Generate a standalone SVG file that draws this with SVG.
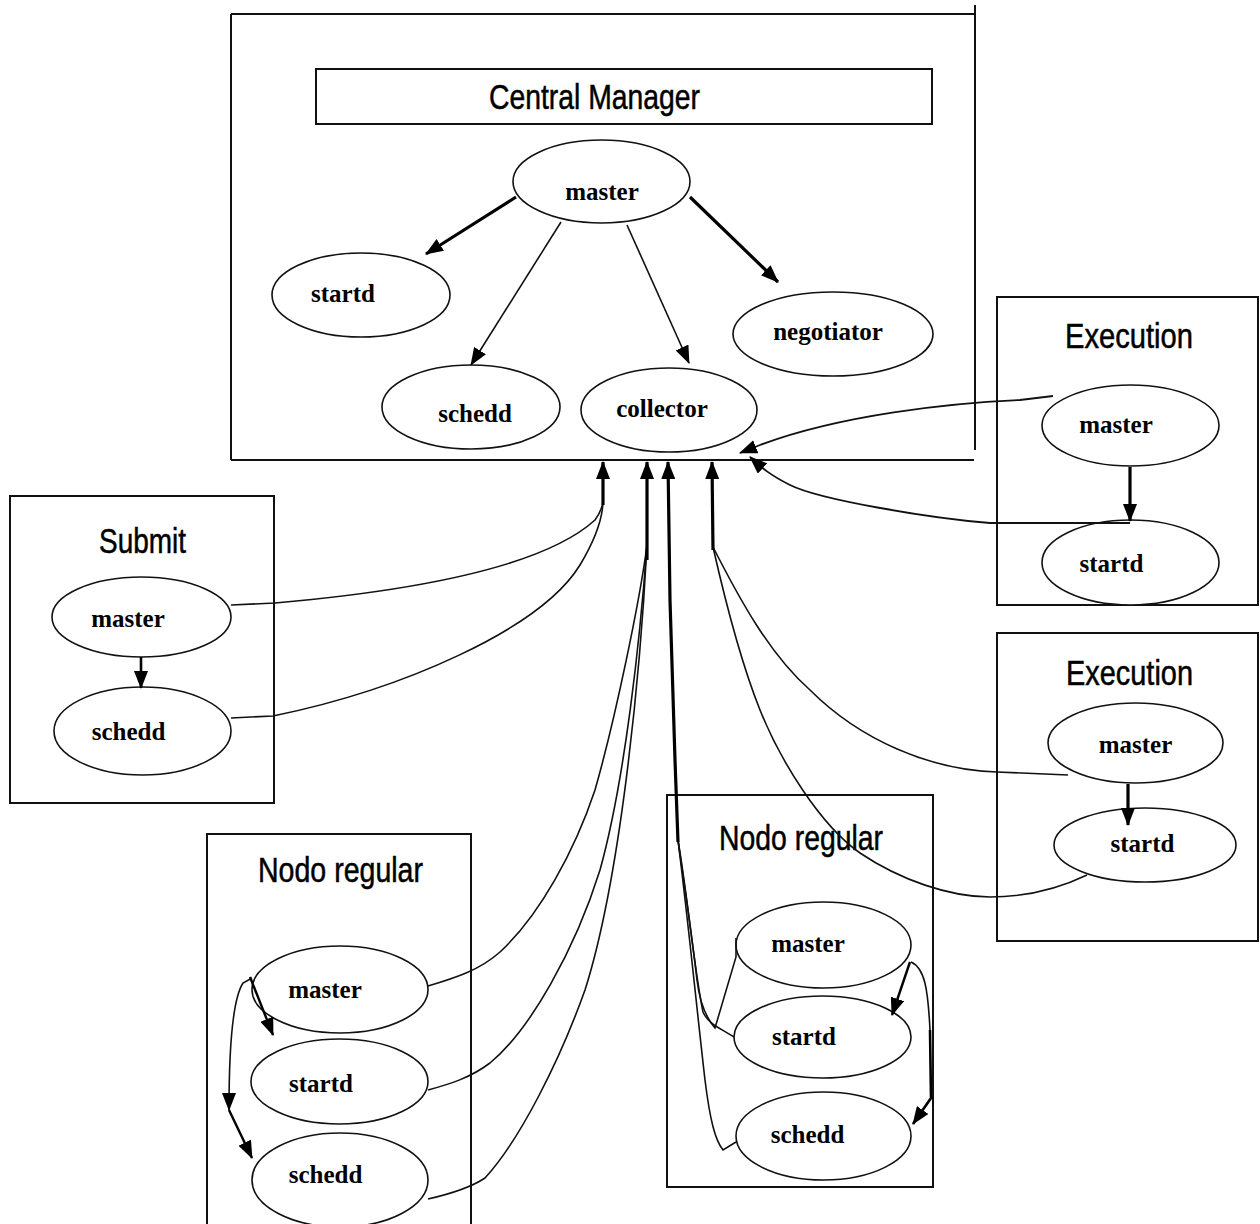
<svg xmlns="http://www.w3.org/2000/svg" width="1260" height="1224" viewBox="0 0 1260 1224">
  <defs>
    <marker id="ah" markerUnits="userSpaceOnUse" markerWidth="18" markerHeight="14" viewBox="0 0 18 14" refX="17" refY="7" orient="auto">
      <path d="M0,0 L18,7 L0,14 z" fill="#000"/>
    </marker>
    <style>
      .frame { fill: none; stroke: #111; stroke-width: 2; }
      .node { fill: #fff; stroke: #111; stroke-width: 1.6; }
      .title { font-family: "Liberation Sans", Arial, sans-serif; font-size: 35px; fill: #000; stroke: #000; stroke-width: 0.5; }
      .label { font-family: "Liberation Serif", "Times New Roman", serif; font-weight: bold; font-size: 25px; fill: #000; text-anchor: middle; }
      .wire { fill: none; stroke: #111; stroke-width: 1.6; }
      .thin { fill: none; stroke: #111; stroke-width: 1.6; marker-end: url(#ah); }
      .thick { fill: none; stroke: #000; stroke-width: 3.2; marker-end: url(#ah); }
    </style>
  </defs>
  <rect width="1260" height="1224" fill="#fff"/>

  <!-- Central Manager cluster -->
  <g id="central-manager">
    <path class="frame" d="M231,14 H975 M975,5 V450 M231,14 V460 M231,460 H974"/>
    <rect class="frame" x="316" y="69" width="616" height="55"/>
    <text class="title" x="489" y="109" textLength="211" lengthAdjust="spacingAndGlyphs">Central Manager</text>
  </g>
  <g id="cm-master">
    <ellipse class="node" cx="601.5" cy="181.5" rx="88.5" ry="41.5"/>
    <text class="label" x="602" y="200">master</text>
  </g>
  <g id="cm-startd">
    <ellipse class="node" cx="361" cy="295" rx="89" ry="42"/>
    <text class="label" x="343" y="302">startd</text>
  </g>
  <g id="cm-schedd">
    <ellipse class="node" cx="471" cy="407" rx="89" ry="42"/>
    <text class="label" x="475" y="422">schedd</text>
  </g>
  <g id="cm-collector">
    <ellipse class="node" cx="669" cy="410" rx="88" ry="42"/>
    <text class="label" x="662" y="417">collector</text>
  </g>
  <g id="cm-negotiator">
    <ellipse class="node" cx="833" cy="334" rx="100" ry="42"/>
    <text class="label" x="828" y="340">negotiator</text>
  </g>

  <!-- Submit machine -->
  <g id="submit">
    <rect class="frame" x="10" y="496" width="264" height="307"/>
    <text class="title" x="99" y="553" textLength="87" lengthAdjust="spacingAndGlyphs">Submit</text>
  </g>
  <g id="submit-master">
    <ellipse class="node" cx="141.5" cy="617" rx="89.5" ry="40"/>
    <text class="label" x="128" y="627">master</text>
  </g>
  <g id="submit-schedd">
    <ellipse class="node" cx="142.5" cy="731" rx="88.5" ry="44"/>
    <text class="label" x="128.5" y="740">schedd</text>
  </g>

  <!-- Execution machine 1 -->
  <g id="execution-1">
    <rect class="frame" x="997" y="297" width="261" height="308"/>
    <text class="title" x="1065" y="348" textLength="128" lengthAdjust="spacingAndGlyphs">Execution</text>
  </g>
  <g id="exec1-master">
    <ellipse class="node" cx="1130.5" cy="425.5" rx="88.5" ry="40.5"/>
    <text class="label" x="1116" y="433">master</text>
  </g>
  <g id="exec1-startd">
    <ellipse class="node" cx="1130.5" cy="562.5" rx="88.5" ry="42.5"/>
    <text class="label" x="1111.5" y="572">startd</text>
  </g>

  <!-- Execution machine 2 -->
  <g id="execution-2">
    <rect class="frame" x="997" y="633" width="261" height="308"/>
    <text class="title" x="1066" y="685" textLength="127" lengthAdjust="spacingAndGlyphs">Execution</text>
  </g>
  <g id="exec2-master">
    <ellipse class="node" cx="1135.5" cy="743" rx="87.5" ry="40"/>
    <text class="label" x="1135.5" y="753">master</text>
  </g>
  <g id="exec2-startd">
    <ellipse class="node" cx="1145" cy="845" rx="91" ry="37"/>
    <text class="label" x="1142.5" y="852">startd</text>
  </g>

  <!-- Regular node (left) -->
  <g id="regular-left">
    <rect class="frame" x="207" y="834" width="264" height="400"/>
    <text class="title" x="258" y="882" textLength="165" lengthAdjust="spacingAndGlyphs">Nodo regular</text>
  </g>
  <g id="rl-master">
    <ellipse class="node" cx="340" cy="989.5" rx="88" ry="43.5"/>
    <text class="label" x="325" y="998">master</text>
  </g>
  <g id="rl-startd">
    <ellipse class="node" cx="339.5" cy="1081.5" rx="88.5" ry="42.5"/>
    <text class="label" x="321" y="1092">startd</text>
  </g>
  <g id="rl-schedd">
    <ellipse class="node" cx="340" cy="1180" rx="88" ry="47"/>
    <text class="label" x="325.5" y="1183">schedd</text>
  </g>

  <!-- Regular node (right) -->
  <g id="regular-right">
    <rect class="frame" x="667" y="795" width="266" height="392"/>
    <text class="title" x="719" y="850" textLength="164" lengthAdjust="spacingAndGlyphs">Nodo regular</text>
  </g>
  <g id="rr-master">
    <ellipse class="node" cx="823.5" cy="945" rx="87.5" ry="43"/>
    <text class="label" x="808" y="952">master</text>
  </g>
  <g id="rr-startd">
    <ellipse class="node" cx="822.5" cy="1037" rx="88.5" ry="41"/>
    <text class="label" x="804" y="1045">startd</text>
  </g>
  <g id="rr-schedd">
    <ellipse class="node" cx="823.5" cy="1136" rx="87.5" ry="44"/>
    <text class="label" x="807.5" y="1143">schedd</text>
  </g>

  <!-- Connectors -->
  <g id="connectors">
    <!-- inside the central manager -->
    <path class="thick" d="M516,197 L426,254"/>
    <path class="thin" d="M561,222 L471,365"/>
    <path class="thin" d="M627,225 L689,363"/>
    <path class="thick" d="M690,197 L778,282"/>

    <!-- local master to daemon edges -->
    <path class="thick" d="M141,657 L141,688" style="stroke-width:2.6"/>
    <path class="thick" d="M1130,467 L1130,521"/>
    <path class="thick" d="M1128,784 L1128,825"/>
    <path class="thick" d="M250,977 L273,1035" style="stroke-width:2.4"/>
    <path class="thin" d="M252,978 L243,983 C232,1000 229,1050 229,1110"/>
    <path class="thick" d="M229,1110 L252,1158" style="stroke-width:2.4"/>
    <path class="thick" d="M910,962 L892,1015" style="stroke-width:2.4"/>
    <path class="wire" d="M911,962 C925,968 928,990 930,1030"/>
    <path class="thick" d="M930,1030 L931,1098 L913,1124" style="stroke-width:2.6"/>

    <!-- submit machine to collector -->
    <path class="wire" d="M231,605 L275,603 C400,592 540,570 595,520 C602,510 603,505 603,500"/>
    <path class="wire" d="M231,718 L273,716 C400,690 540,630 580,565 C598,535 603,515 603,500"/>
    <path class="thick" d="M603,505 L603,462"/>

    <!-- left regular node to collector -->
    <path class="wire" d="M428,986 C455,978 480,970 500,952 C540,915 575,850 595,790 C615,720 640,600 647,545"/>
    <path class="wire" d="M428,1090 C450,1084 470,1078 490,1063 C530,1030 575,950 600,870 C625,780 640,640 647,545"/>
    <path class="wire" d="M428,1199 C450,1194 470,1188 485,1178 C520,1140 560,1060 585,990 C620,880 640,680 647,545"/>
    <path class="thick" d="M647,560 L647,462"/>

    <!-- right regular node to collector -->
    <path class="wire" d="M736,938 L736,957 L715,1028 C708,1020 700,1005 697,980 C690,920 682,870 678,840"/>
    <path class="wire" d="M734,1037 C722,1029 708,1024 703,1012 C695,975 688,900 678,840"/>
    <path class="wire" d="M736,1142 L723,1150 C715,1140 710,1120 705,1080 C698,1020 688,920 678,840"/>
    <path class="thick" d="M678,842 L675,760 L670,600 L668,462"/>

    <!-- execution machine 2 to collector -->
    <path class="wire" d="M1068,775 L997,772 C930,770 860,740 810,690 C770,655 740,600 713,547"/>
    <path class="wire" d="M1087,875 C1060,888 1030,897 990,897 C950,897 900,880 860,853 C820,825 780,760 760,710 C740,660 725,600 713,547"/>
    <path class="thick" d="M713,550 L712,462"/>

    <!-- execution machine 1 to collector -->
    <path class="thin" d="M1053,396 L1020,400 C950,403 840,415 760,445 L740,453" style="stroke-width:1.8"/>
    <path class="thin" d="M1130,523 L990,523 C930,518 820,500 790,485 C770,475 762,468 750,457" style="stroke-width:1.8"/>
  </g>
</svg>
